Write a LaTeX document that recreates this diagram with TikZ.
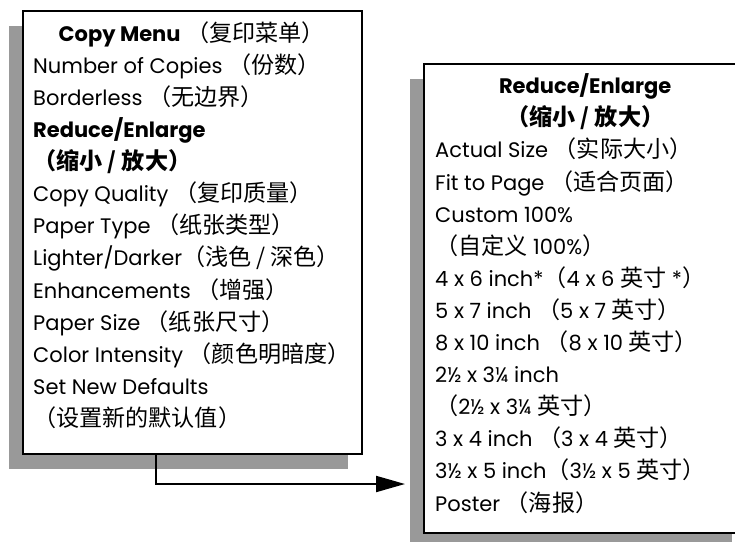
\documentclass[tikz,border=0pt]{standalone}
\usepackage{fontspec}
\setmainfont{Poppins}
\newfontfamily\cjk{Noto Sans CJK SC}[Scale=1.1]
\newcommand{\zh}[1]{{\cjk #1}}
\newcommand{\firstrow}{\rule{0pt}{24pt}}
\usetikzlibrary{arrows.meta,shadows}

\tikzset{
  frame/.style={draw=black, line width=2pt, fill=white, anchor=north west, inner sep=0pt,
    drop shadow={shadow xshift=-14pt, shadow yshift=-15pt, fill=black!40, opacity=1}},
  entries/.style={anchor=north west, inner sep=0pt, align=left,
    font=\fontsize{21}{32.1}\selectfont},
  flow/.style={line width=2pt, -{Triangle[length=29pt, width=16pt]}}
}

\begin{document}
\begin{tikzpicture}[x=1pt,y=-1pt]
\useasboundingbox (0,0) rectangle (735,541);
\node[frame, minimum width=339pt, minimum height=443pt] (menu) at (22,10) {};
\node[frame, minimum width=322pt, minimum height=469pt] (reduce) at (423,63) {};
\node[entries] (menutext) at (33,17) {%
\makebox[317pt][c]{\firstrow\textbf{Copy Menu} \zh{（复印菜单）}}\\
Number of Copies \zh{（份数）}\\
Borderless \zh{（无边界）}\\
\textbf{Reduce/Enlarge}\\
\zh{\bfseries（缩小 / 放大）}\\
Copy Quality \zh{（复印质量）}\\
Paper Type \zh{（纸张类型）}\\
Lighter/Darker\zh{（浅色 / 深色）}\\
Enhancements \zh{（增强）}\\
Paper Size \zh{（纸张尺寸）}\\
Color Intensity \zh{（颜色明暗度）}\\
Set New Defaults\\
\zh{（设置新的默认值）}};
\node[entries] (reducetext) at (435,69.5) {%
\makebox[300pt][c]{\firstrow\textbf{Reduce/Enlarge}}\\
\makebox[300pt][c]{\zh{\bfseries（缩小 / 放大）}}\\
Actual Size \zh{（实际大小）}\\
Fit to Page \zh{（适合页面）}\\
Custom 100\%\\
\zh{（自定义} 100\%\zh{）}\\
4 x 6 inch*\zh{（}4 x 6 \zh{英寸} *\zh{）}\\
5 x 7 inch \zh{（}5 x 7 \zh{英寸）}\\
8 x 10 inch \zh{（}8 x 10 \zh{英寸）}\\
2½ x 3¼ inch\\
\zh{（}2½ x 3¼ \zh{英寸）}\\
3 x 4 inch \zh{（}3 x 4 \zh{英寸）}\\
3½ x 5 inch\zh{（}3½ x 5 \zh{英寸）}\\
Poster \zh{（海报）}};
\coordinate (hit) at (405,484);
\draw[flow] ([xshift=134pt]menu.south west) |- (hit);
\end{tikzpicture}
\end{document}
